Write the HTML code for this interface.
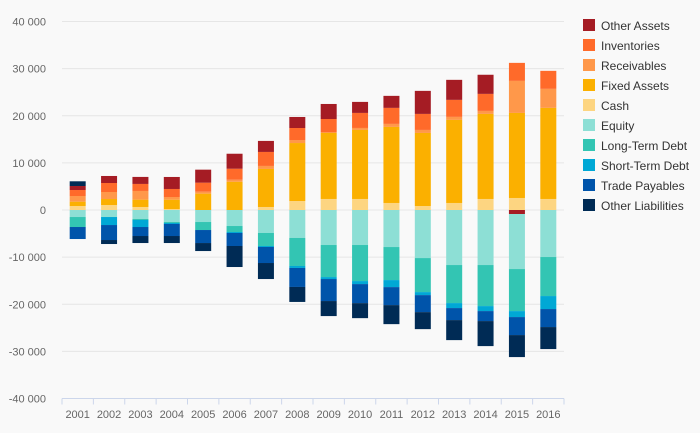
<!DOCTYPE html>
<html><head><meta charset="utf-8"><style>
body{margin:0;background:#f9f9f9;}
svg{display:block;font-family:"Liberation Sans",sans-serif;}
</style></head><body>
<svg id="chart" width="700" height="433">
<rect width="700" height="433" fill="#f9f9f9"/>
<g id="grid"></g><g id="bars"></g><g id="axis"></g><g id="legend"></g>
</svg>
<script>
const categories = ["2001","2002","2003","2004","2005","2006","2007","2008","2009","2010","2011","2012","2013","2014","2015","2016"];
const seriesNames = ["Other Assets","Inventories","Receivables","Fixed Assets","Cash","Equity","Long-Term Debt","Short-Term Debt","Trade Payables","Other Liabilities"];
const seriesColors = ["#a51c24","#ff6a2a","#ff984a","#fbb000","#fdd581","#8ddfd5","#33c5b3","#00a8d5","#0054aa","#002b55"];
const otherAssets = [850,1490,1490,2550,2760,3180,2340,2340,3190,2340,2550,4890,4250,4060,-850,0];
const inventories = [1270,1910,1490,1700,1910,2340,2970,2550,2760,3190,3400,3400,3610,3610,3820,3820];
const receivables = [1200,1490,1840,570,420,420,640,640,210,420,640,640,640,640,6800,4040];
const fixedAssets = [920,1270,1560,1980,3470,6000,8070,12300,14000,14650,16140,15500,17630,18050,18050,19330];
const cash = [850,1060,640,210,0,0,640,1910,2340,2340,1490,850,1490,2340,2550,2340];
const equity = [-1490,-1490,-1910,-2550,-2550,-3400,-4880,-5940,-7430,-7430,-7860,-10200,-11680,-11680,-11680,-9980];
const longTermDebt = [-2120,0,-210,-210,-1700,-1270,-2760,-5940,-6800,-7650,-7010,-7220,-8070,-8710,-8920,-8280];
const shortTermDebt = [0,-1700,-1490,-210,0,-210,-210,-420,-420,-640,-1490,-640,-1060,-1060,-1270,-2760];
const tradePayables = [-2550,-3180,-1910,-2550,-2760,-2760,-3400,-4030,-4670,-4040,-3820,-3610,-2550,-2120,-3820,-3820];
const otherLiabilities = [1000,-850,-1490,-1490,-1700,-4460,-3400,-3180,-3190,-3190,-4040,-3610,-4250,-5310,-4670,-4670];
const yTicks = [40000,30000,20000,10000,0,-10000,-20000,-30000,-40000];
const seriesData = [otherAssets,inventories,receivables,fixedAssets,cash,equity,longTermDebt,shortTermDebt,tradePayables,otherLiabilities];

const NS="http://www.w3.org/2000/svg";
const plotL=62, plotR=564, yTop=21.5, yBot=398.5, yMax=40000, yMin=-40000;
const band=(plotR-plotL)/categories.length, barW=16;
function y(v){return yTop+(yMax-v)/(yMax-yMin)*(yBot-yTop);}
function xC(i){return plotL+band*(i+0.5);}
function mk(tag,attrs,parent){const e=document.createElementNS(NS,tag);for(const k in attrs)e.setAttribute(k,attrs[k]);parent.appendChild(e);return e;}
const grid=document.getElementById('grid'),bars=document.getElementById('bars'),axis=document.getElementById('axis'),legend=document.getElementById('legend');
yTicks.forEach(t=>{
  if(t!==yMin){const l=mk('line',{x1:plotL,x2:plotR,y1:y(t),y2:y(t),stroke:'#e6e6e6','stroke-width':1},grid);
  
  }
  const tx=mk('text',{x:46,y:y(t)+4,'text-anchor':'end','font-size':11,fill:'#666'},axis);
  tx.textContent=t===0?'0':(t<0?'-':'')+Math.abs(t/1000)+' 000';
  
  
});
// stacking order from zero outward
const order=[4,3,2,1,0,5,6,7,8,9];
categories.forEach((c,i)=>{
  let pos=0,neg=0;
  order.forEach(s=>{
    const v=seriesData[s][i]; if(!v)return;
    let y0,y1;
    if(v>0){y0=y(pos+v);y1=y(pos);pos+=v;}else{y0=y(neg);y1=y(neg+v);neg+=v;}
    const r=mk('rect',{x:xC(i)-barW/2,y:y0,width:barW,height:y1-y0,fill:seriesColors[s]},bars);
    
    
  });
  const tx=mk('text',{x:xC(i),y:418,'text-anchor':'middle','font-size':11,fill:'#666'},axis);
  tx.textContent=c;
  
  
});
const al=mk('line',{x1:plotL,x2:plotR,y1:yBot,y2:yBot,stroke:'#ccd6eb'},axis);


for(let i=0;i<=categories.length;i++){
  const t=mk('line',{x1:plotL+band*i,x2:plotL+band*i,y1:yBot,y2:yBot+6,stroke:'#ccd6eb'},axis);
  
  
}
seriesNames.forEach((n,s)=>{
  const g=mk('g',{},legend);
  
  
  mk('rect',{x:583,y:19+s*20,width:12,height:12,fill:seriesColors[s]},g);
  const t=mk('text',{x:601,y:30+s*20,'font-size':12,fill:'#333'},g);
  t.textContent=n;
});
</script>
</body></html>
